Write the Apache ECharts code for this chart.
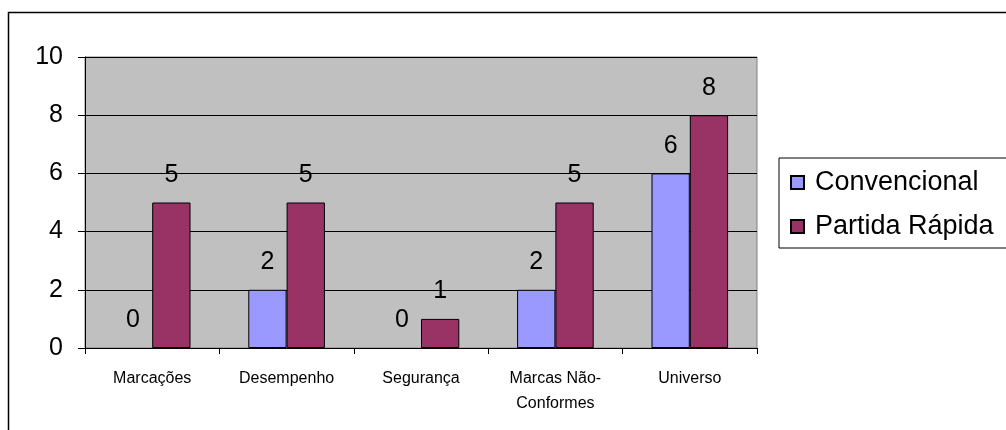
<!DOCTYPE html>
<html>
<head>
<meta charset="utf-8">
<script src="https://cdn.jsdelivr.net/npm/echarts@6/dist/echarts.min.js"></script>
<style>
  html, body { margin: 0; padding: 0; background: #fff; }
  #chart { width: 1006px; height: 430px; }
</style>
</head>
<body>
<div id="chart"></div>
<script>
// Categories and counts per group
const categories = ['Marcações', 'Desempenho', 'Segurança', 'Marcas Não-\nConformes', 'Universo'];
const convencional = [0, 2, 0, 2, 6];
const partidaRapida = [5, 5, 1, 5, 8];
const seriesNames = ['Convencional', 'Partida Rápida'];

const FONT = 'Arial, "Liberation Sans", sans-serif';
const chart = echarts.init(document.getElementById('chart'));

const labelStyle = {
  show: true,
  position: 'top',
  distance: 15,
  color: '#000',
  fontFamily: FONT,
  fontSize: 25
};

// zero-height bars carry no outline, only their value label
const toItems = arr => arr.map(v => v === 0 ? { value: v, itemStyle: { borderWidth: 0 } } : v);

chart.setOption({
  animation: false,
  backgroundColor: '#fff',
  graphic: [{
    type: 'rect',
    shape: { x: 8.5, y: 12.5, width: 1010, height: 440 },
    style: { fill: 'none', stroke: '#000', lineWidth: 1.5 },
    silent: true
  }],
  grid: {
    left: 85, top: 57, width: 672, height: 291,
    show: true,
    backgroundColor: '#C0C0C0',
    borderColor: '#808080',
    borderWidth: 1
  },
  legend: {
    orient: 'vertical',
    left: 779, top: 158,
    padding: [11, 30, 8, 11],
    itemGap: 17,
    itemWidth: 13, itemHeight: 13,
    borderColor: '#000', borderWidth: 1,
    backgroundColor: '#fff',
    textStyle: { fontFamily: FONT, fontSize: 27, color: '#000', padding: [0, 0, 0, 6] },
    data: seriesNames.map(n => ({ name: n, icon: 'rect' }))
  },
  xAxis: {
    type: 'category',
    data: categories,
    axisLine: { lineStyle: { color: '#000', width: 1 } },
    axisTick: { show: true, length: 6, lineStyle: { color: '#000' } },
    axisLabel: {
      color: '#000', fontFamily: FONT, fontSize: 16,
      margin: 18, lineHeight: 25, interval: 0
    },
    splitLine: { show: false }
  },
  yAxis: {
    type: 'value',
    min: 0, max: 10, interval: 2,
    axisLine: { show: true, lineStyle: { color: '#000', width: 1 } },
    axisTick: { show: true, length: 7, lineStyle: { color: '#000' } },
    axisLabel: { color: '#000', fontFamily: FONT, fontSize: 25, margin: 22 },
    splitLine: { show: true, lineStyle: { color: '#000', width: 1 } }
  },
  series: [
    {
      name: seriesNames[0], type: 'bar', data: toItems(convencional),
      barGap: '0%', barCategoryGap: '43%',
      itemStyle: { color: '#9999FF', borderColor: '#000', borderWidth: 1 },
      label: labelStyle
    },
    {
      name: seriesNames[1], type: 'bar', data: toItems(partidaRapida),
      barGap: '0%', barCategoryGap: '43%',
      itemStyle: { color: '#993366', borderColor: '#000', borderWidth: 1 },
      label: labelStyle
    }
  ]
});
</script>
</body>
</html>
